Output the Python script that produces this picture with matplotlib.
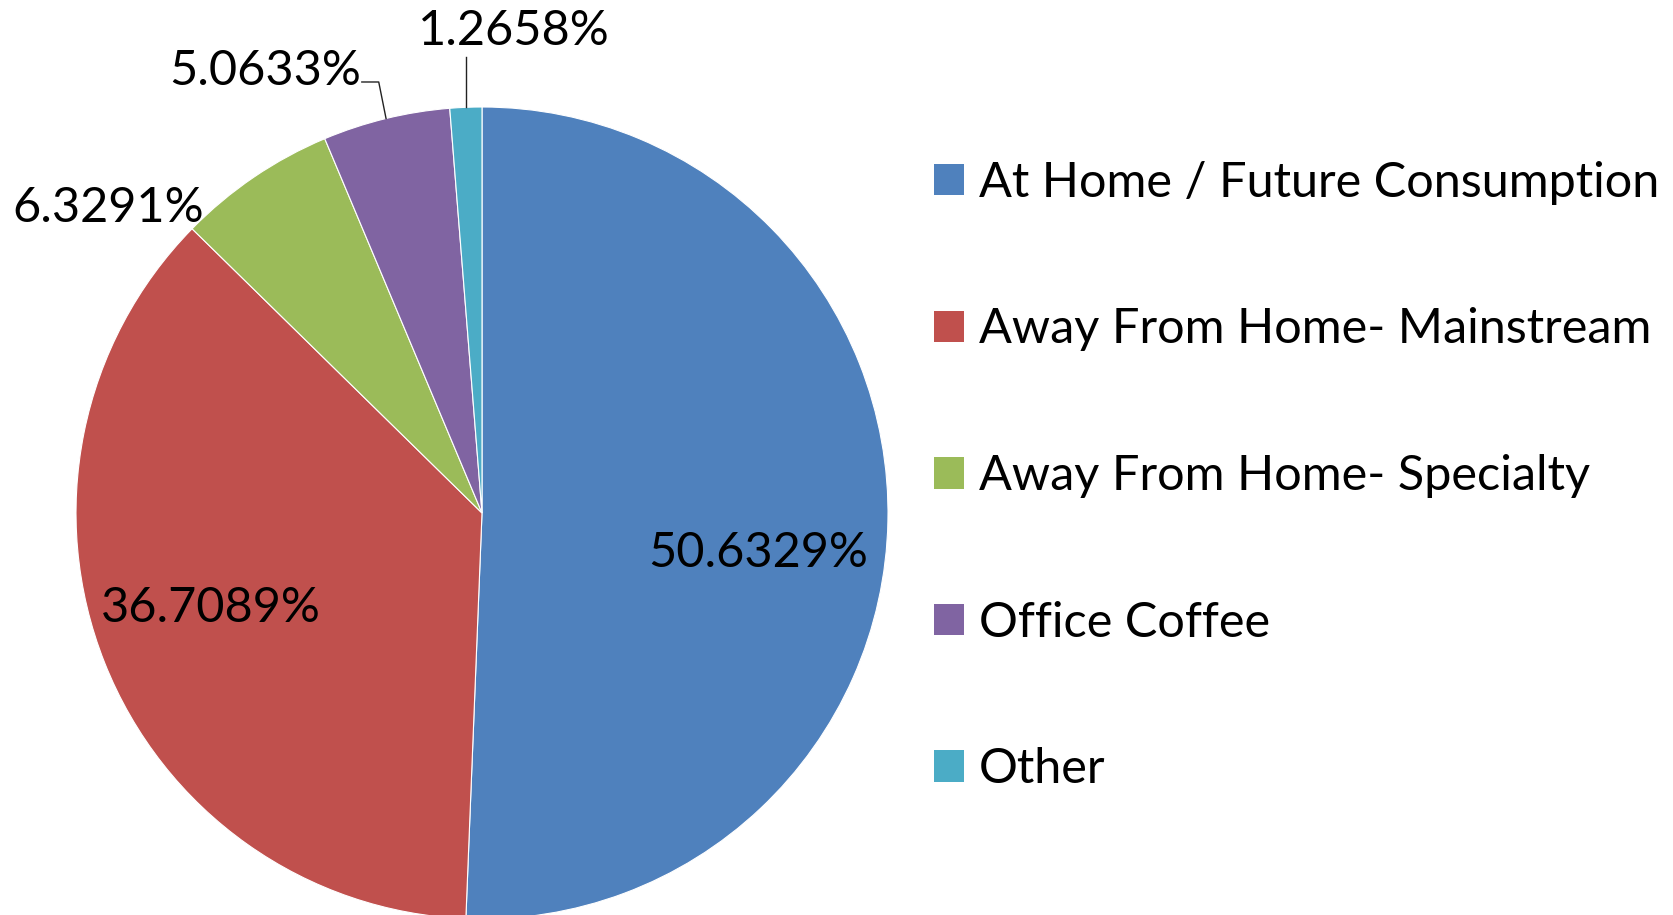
import matplotlib
matplotlib.use("Agg")
import matplotlib.pyplot as plt
import numpy as np

categories = ["At Home / Future Consumption", "Away From Home- Mainstream",
              "Away From Home- Specialty", "Office Coffee", "Other"]
shares = [50.6329, 36.7089, 6.3291, 5.0633, 1.2658]
colors = ["#4F81BD", "#C0504D", "#9BBB59", "#8064A2", "#4BACC6"]

# label layout (in pie-radius units, centre x, baseline y)
label_pos = [(0.680, -0.133), (-0.667, -0.268), (-0.921, 0.717),
             (-0.534, 1.054), (0.079, 1.153)]

plt.rcParams['font.family'] = ['Lato', 'DejaVu Sans']
FS = 35

W, H = 1673, 915
fig = plt.figure(figsize=(W / 100, H / 100), dpi=100)
ax = fig.add_axes([0, 0, 1, 1])

R = 406.0
cx, cy = 482.0, 513.0

wedges, _ = ax.pie(shares, colors=colors, startangle=90, counterclock=False,
                   radius=1.0, center=(0, 0),
                   wedgeprops=dict(edgecolor="white", linewidth=0.8))

for val, (x, y) in zip(shares, label_pos):
    ax.text(x, y, f"{val:.4f}%", ha="center", va="baseline",
            fontsize=FS, color="black")

# leader lines for small slices
def mid_point(w):
    th = np.deg2rad((w.theta1 + w.theta2) / 2)
    return np.cos(th), np.sin(th)

# Office Coffee
px, py = mid_point(wedges[3])
ax.plot([px, px - 0.018, -0.296], [py, 1.0616, 1.0616], color="#222222", lw=1.0)
# Other
px, py = mid_point(wedges[4])
ax.plot([px, px], [py, 1.123], color="#222222", lw=1.0)

ax.set_xlim(-cx / R, (W - cx) / R)
ax.set_ylim(-(H - cy) / R, cy / R)
ax.set_aspect("auto")
ax.axis("off")

fs_px = FS * 100 / 72
leg = fig.legend(wedges, categories, loc="center left",
                 bbox_to_anchor=(934 / W, 1 - 476 / H),
                 frameon=False, fontsize=FS, borderpad=0, borderaxespad=0,
                 handlelength=30 / fs_px, handleheight=30 / fs_px,
                 handletextpad=15 / fs_px, labelspacing=2.11)
for h in leg.legend_handles:
    h.set_edgecolor("none")

fig.savefig("out.png", dpi=100)
